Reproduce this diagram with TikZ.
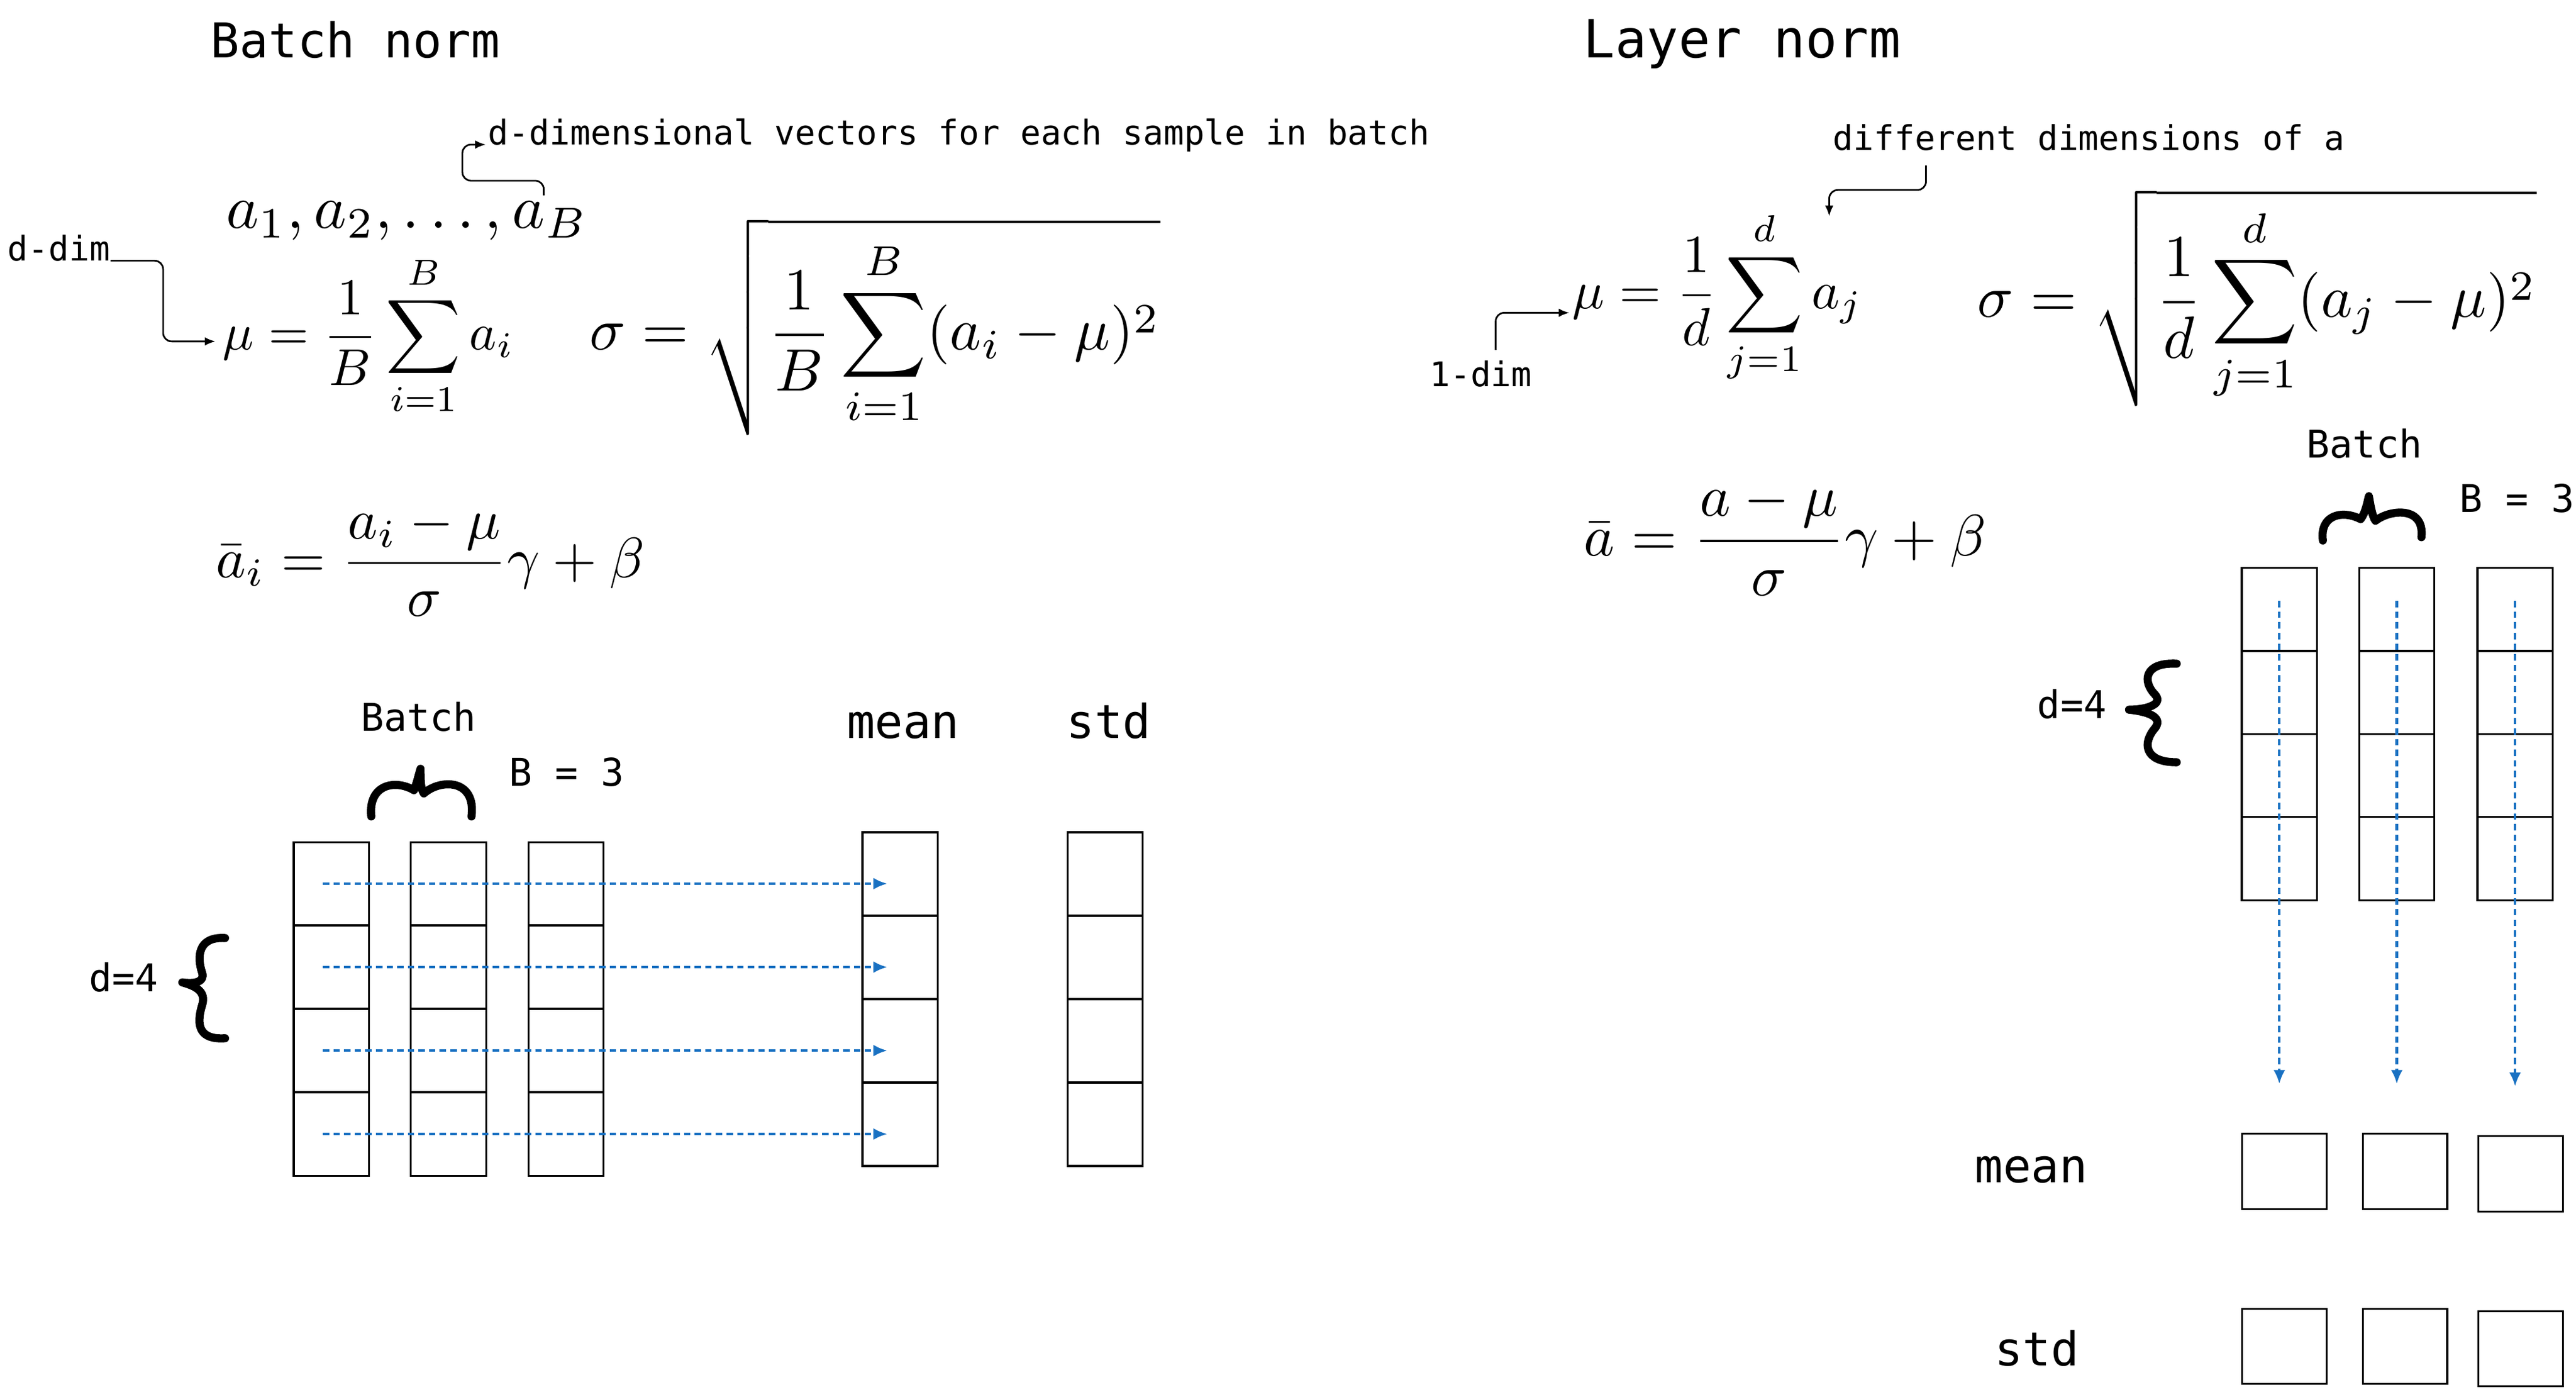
\documentclass[tikz,border=0pt]{standalone}
\usepackage{fontspec}
\newfontfamily\sketchfont{DejaVu Sans Mono}
\usetikzlibrary{arrows.meta}
\definecolor{flowblue}{HTML}{1971C2}

\begin{document}
\begin{tikzpicture}[x=0.02718cm,y=-0.02718cm]
  \tikzstyle{every node}=[inner sep=0pt]
  \tikzstyle{title}=[anchor=base west,font=\sketchfont\fontsize{22.6}{27}\selectfont]
  \tikzstyle{note}=[anchor=base west,font=\sketchfont\fontsize{16}{19}\selectfont]
  \tikzstyle{lbl}=[anchor=base west,font=\sketchfont\fontsize{18}{21}\selectfont]
  \tikzstyle{head}=[anchor=base west,font=\sketchfont\fontsize{22}{26}\selectfont]
  \tikzstyle{eq}=[anchor=base west,scale=2.65]
  \tikzstyle{cell}=[draw,line width=0.9pt,minimum width=35.4pt,minimum height=39.2pt]
  \tikzstyle{slot}=[draw,line width=0.9pt,minimum width=39.8pt,minimum height=35.4pt]
  \tikzstyle{flow}=[flowblue,line width=1.2pt,dash pattern=on 3pt off 2pt,-{Latex[length=6.5pt,width=5.5pt]}]
  \tikzstyle{pointer}=[line width=0.8pt,rounded corners=4pt,-{Latex[length=5pt,width=4pt]}]
  \tikzstyle{handbrace}=[line width=3.8pt,line cap=round,line join=round]

  \fill[white] (0,0) rectangle (1568.1,847);
  \useasboundingbox (0,0) rectangle (1568.1,847);

  % batch norm
  \node[title] (bntitle) at (128,35) {Batch norm};
  \node[note] (dvec) at (297,88) {d-dimensional vectors for each sample in batch};
  \node[eq,scale=1.1] (avecs) at (137,139) {$a_1, a_2, \ldots, a_B$};
  \coordinate (aB) at (331,119);
  \draw[pointer] (aB) -- ++(0,-9) -| ([xshift=-12pt]dvec.base west) -- ([xshift=-1pt]dvec.base west);
  \node[note] (ddim) at (4.5,158.7) {d-dim};
  \node[eq,scale=0.92] (bnmu) at (135,213) {$\displaystyle \mu = \frac{1}{B}\sum_{i=1}^{B} a_i$};
  \draw[pointer] (ddim.base east) -- ++(32,0) |- ([shift={(-3pt,4pt)}]bnmu.base west);
  \node[eq,scale=1.06] (bnsigma) at (358,213) {$\displaystyle \sigma = \sqrt{\frac{1}{B}\sum_{i=1}^{B}(a_i-\mu)^2}$};
  \node[eq,scale=1.01] (bnout) at (131,351.4) {$\displaystyle \bar{a}_i = \frac{a_i-\mu}{\sigma}\gamma+\beta$};

  \node[lbl] (bnbatch) at (219.6,445) {Batch};
  \node[lbl] (bnsize) at (309.7,478.6) {B = 3};
  \node[head] (bnmeanlbl) at (515.3,449.5) {mean};
  \node[head] (bnstdlbl) at (649,449.5) {std};
  \node[lbl] (bndim) at (54,603.6) {d=4};
  \draw[handbrace] (226,497) .. controls (224,478) and (240,474) .. (252,481)
    .. controls (254,476) and (255,471) .. (256,468)
    .. controls (256,475) and (256,480) .. (258,483)
    .. controls (268,474) and (290,474) .. (287,497);
  \draw[handbrace] (137,571) .. controls (120,570) and (120,583) .. (123,592)
    .. controls (125,598) and (118,599) .. (111,598)
    .. controls (118,600) and (126,603) .. (123,612)
    .. controls (119,625) and (122,633) .. (137,632);

  \foreach \c/\x in {1/201.7,2/273,3/344.5}
    \foreach \r in {1,...,4}
      \node[cell] (bn\c-\r) at (\x,487.1+50.8*\r) {};
  \foreach \r in {1,...,4} {
    \node[cell] (bnmean-\r) at (547.9,481.2+50.8*\r) {};
    \node[cell] (bnstd-\r) at (672.8,481.2+50.8*\r) {};
    \draw[flow,shorten <=-4pt,shorten >=6pt] (bn1-\r.center) -- (bn1-\r.center -| bnmean-\r.center);
  }

  % layer norm
  \node[title,font=\sketchfont\fontsize{24.8}{29}\selectfont] (lntitle) at (963.6,35) {Layer norm};
  \node[note] (diffdim) at (1115.5,91.6) {different dimensions of a};
  \coordinate (ajtip) at (1113.5,131.6);
  \draw[pointer] ([xshift=44pt,yshift=-7pt]diffdim.base west) -- ++(0,15) -| (ajtip);
  \node[eq,scale=0.95] (lnmu) at (956.6,187.8) {$\displaystyle \mu = \frac{1}{d}\sum_{j=1}^{d} a_j$};
  \node[note] (onedim) at (870,235.4) {1-dim};
  \draw[pointer] ([xshift=7pt,yshift=5pt]onedim.north) |- ([shift={(-1pt,-2pt)}]lnmu.base west);
  \node[eq,scale=1.06] (lnsigma) at (1203,193) {$\displaystyle \sigma = \sqrt{\frac{1}{d}\sum_{j=1}^{d}(a_j-\mu)^2}$};
  \node[eq,scale=1.04] (lnout) at (963.6,338.2) {$\displaystyle \bar{a} = \frac{a-\mu}{\sigma}\gamma+\beta$};

  \node[lbl] (lnbatch) at (1404,278.7) {Batch};
  \node[lbl] (lnsize) at (1497,312) {B = 3};
  \node[lbl] (lndim) at (1240,437.2) {d=4};
  \node[head] (lnmeanlbl) at (1202,719.9) {mean};
  \node[head] (lnstdlbl) at (1214,831.5) {std};
  \draw[handbrace] (1414,329) .. controls (1412,314) and (1425,310) .. (1437,316)
    .. controls (1440,312) and (1441,306) .. (1442,302)
    .. controls (1443,308) and (1444,314) .. (1446,317)
    .. controls (1455,310) and (1476,308) .. (1474,327);
  \draw[handbrace] (1325,404) .. controls (1305,403) and (1304,415) .. (1312,423)
    .. controls (1317,429) and (1306,432) .. (1296,432)
    .. controls (1306,433) and (1317,436) .. (1312,443)
    .. controls (1304,452) and (1305,464) .. (1325,464);

  \foreach \c/\x/\m/\y in {1/1387.5/1390.5/713,2/1459/1464/713,3/1531/1534.5/714.5} {
    \foreach \r in {1,...,4}
      \node[cell] (ln\c-\r) at (\x,320.55+50.5*\r) {};
    \node[slot] (lnmean\c) at (\m,\y) {};
    \node[slot] (lnstd\c) at (\m,\y+106.5) {};
    \draw[flow,shorten <=16pt,shorten >=23pt] (ln\c-1.north) -- (ln\c-1.north |- lnmean\c.north);
  }
\end{tikzpicture}
\end{document}
